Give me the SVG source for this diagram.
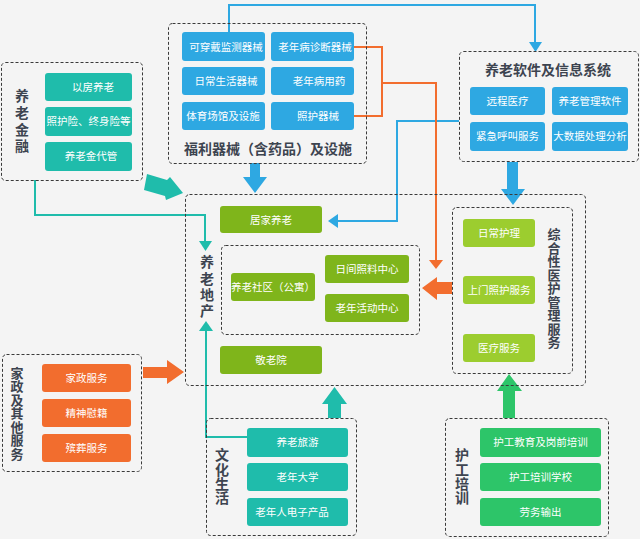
<svg xmlns="http://www.w3.org/2000/svg" width="640" height="539" viewBox="0 0 640 539">
<style>
.bg{fill:#f4f4f4}
.dash{fill:none;stroke:#3a3a3a;stroke-width:1;stroke-dasharray:3,2}
.teal{fill:#1fbcab}
.blue{fill:#2ea8e2}
.olive{fill:#7fb51b}
.lime{fill:#9ccd2f}
.orange{fill:#f26d2e}
.green{fill:#2dc569}
.bt{font-family:"Noto Sans CJK SC","Noto Sans",sans-serif;font-size:10.5px;fill:#ffffff;text-anchor:middle}
.tt{font-family:"Noto Sans CJK SC","Noto Sans",sans-serif;font-size:14px;font-weight:bold;fill:#3d4450;text-anchor:middle}
.vt{font-family:"Noto Sans CJK SC","Noto Sans",sans-serif;font-size:14px;font-weight:bold;fill:#3d4450;writing-mode:vertical-rl;text-anchor:start}
.vs{font-size:13px}
.ln{fill:none;stroke-width:2}
</style>
<rect class="bg" x="0" y="0" width="640" height="539"/>

<g id="connectors">
  <polyline class="ln" stroke="#1fbcab" points="35,180 35,215 205,215 205,243"/>
  <polygon fill="#1fbcab" points="199,241 212,241 205.5,251"/>
  <polyline class="ln" stroke="#1fbcab" points="247,437 206,437 206,329"/>
  <polygon fill="#1fbcab" points="199,331 213,331 206,321"/>
  <polyline class="ln" stroke="#2ea8e2" points="229,32 229,5 535,5 535,44"/>
  <polygon fill="#2ea8e2" points="529,42 542,42 535.5,52"/>
  <polyline class="ln" stroke="#2ea8e2" points="459,121 397,121 397,221 336,221"/>
  <polygon fill="#2ea8e2" points="338,214 338,228 328,221"/>
  <polyline class="ln" stroke="#f26d2e" points="354,47 382,47 382,116 354,116"/>
  <polyline class="ln" stroke="#f26d2e" points="382,83 436,83 436,262"/>
  <polygon fill="#f26d2e" points="429,260 443,260 436,269"/>
  <polygon class="blue" points="250,163 260,163 260,177 267,177 255,193 243,177 250,177"/>
  <polygon class="blue" points="507,162 518,162 518,189 525,189 513,205 501,189 507,189"/>
  <polygon class="teal" points="328,418 341,418 341,404 347,404 334.5,387 322,404 328,404"/>
  <polygon class="green" points="503,418 515,418 515,391 522,391 509,374 497,391 503,391"/>
  <polygon class="orange" points="143,367 167,367 167,360 184,372 167,384 167,378 143,378"/>
  <polygon class="orange" points="452,282 437,282 437,277 422,288 437,300 437,294 452,294"/>
  <polygon class="teal" points="147,174 167,180 170,177 183,193 166,200 165,196 144,190"/>
</g>

<g id="finance">
  <rect class="dash" x="1.5" y="62.5" width="141" height="118" rx="4"/>
  <text class="vt" x="22" y="89">养</text>
  <text class="vt" x="22" y="105.7">老</text>
  <text class="vt" x="22" y="122.4">金</text>
  <text class="vt" x="22" y="139.1">融</text>
  <rect class="teal" x="45" y="73" width="87" height="28" rx="3"/>
  <rect class="teal" x="45" y="107" width="87" height="29" rx="3"/>
  <rect class="teal" x="45" y="142" width="87" height="29" rx="3"/>
  <text class="bt" x="93" y="91">以房养老</text>
  <text class="bt" x="88.5" y="125">照护险、终身险等</text>
  <text class="bt" x="91" y="160">养老金代管</text>
</g>

<g id="welfare">
  <rect class="dash" x="168.5" y="23.5" width="198" height="140" rx="4"/>
  <rect class="blue" x="182" y="32" width="83" height="29" rx="3"/>
  <rect class="blue" x="271" y="32" width="83" height="29" rx="3"/>
  <rect class="blue" x="182" y="67" width="83" height="28" rx="3"/>
  <rect class="blue" x="271" y="67" width="83" height="28" rx="3"/>
  <rect class="blue" x="182" y="102" width="83" height="28" rx="3"/>
  <rect class="blue" x="271" y="102" width="83" height="28" rx="3"/>
  <text class="bt" x="226" y="51">可穿戴监测器械</text>
  <text class="bt" x="315" y="51">老年病诊断器械</text>
  <text class="bt" x="226" y="85">日常生活器械</text>
  <text class="bt" x="319" y="85">老年病用药</text>
  <text class="bt" x="223" y="120">体育场馆及设施</text>
  <text class="bt" x="318" y="120">照护器械</text>
  <text class="tt" x="268" y="154">福利器械（含药品）及设施</text>
</g>

<g id="software">
  <rect class="dash" x="459.5" y="51.5" width="179" height="110" rx="4"/>
  <text class="tt" x="548" y="75">养老软件及信息系统</text>
  <rect class="blue" x="470" y="87" width="75" height="28" rx="3"/>
  <rect class="blue" x="552" y="87" width="76" height="28" rx="3"/>
  <rect class="blue" x="470" y="122" width="75" height="29" rx="3"/>
  <rect class="blue" x="552" y="122" width="76" height="29" rx="3"/>
  <text class="bt" x="507.5" y="105">远程医疗</text>
  <text class="bt" x="590" y="105">养老管理软件</text>
  <text class="bt" x="507.5" y="140">紧急呼叫服务</text>
  <text class="bt" x="590" y="140">大数据处理分析</text>
</g>

<g id="realestate">
  <rect class="dash" x="185.5" y="194.5" width="400" height="191" rx="4"/>
  <text class="vt" x="207" y="255">养</text>
  <text class="vt" x="207" y="271.3">老</text>
  <text class="vt" x="207" y="287.6">地</text>
  <text class="vt" x="207" y="303.9">产</text>
  <rect class="olive" x="220" y="206" width="102" height="27" rx="3"/>
  <text class="bt" x="271" y="223.5">居家养老</text>
  <rect class="olive" x="220" y="346" width="102" height="28" rx="3"/>
  <text class="bt" x="271" y="364">敬老院</text>
</g>

<g id="community">
  <rect class="dash" x="221.5" y="245.5" width="198" height="89" rx="4"/>
  <rect class="olive" x="231" y="273" width="84" height="28" rx="3"/>
  <text class="bt" x="273" y="291">养老社区（公寓）</text>
  <rect class="olive" x="325" y="255" width="84" height="28" rx="3"/>
  <text class="bt" x="367" y="273">日间照料中心</text>
  <rect class="olive" x="325" y="294" width="84" height="28" rx="3"/>
  <text class="bt" x="367" y="312">老年活动中心</text>
</g>

<g id="medical">
  <rect class="dash" x="452.5" y="207.5" width="120" height="166" rx="4"/>
  <rect class="lime" x="463" y="219" width="72" height="28" rx="3"/>
  <rect class="lime" x="463" y="276" width="72" height="28" rx="3"/>
  <rect class="lime" x="463" y="334" width="72" height="28" rx="3"/>
  <text class="bt" x="499" y="237">日常护理</text>
  <text class="bt" x="499" y="294">上门照护服务</text>
  <text class="bt" x="499" y="352">医疗服务</text>
  <text class="vt vs" x="554" y="228">综</text>
  <text class="vt vs" x="554" y="241.5">合</text>
  <text class="vt vs" x="554" y="255">性</text>
  <text class="vt vs" x="554" y="268.5">医</text>
  <text class="vt vs" x="554" y="282">护</text>
  <text class="vt vs" x="554" y="295.5">管</text>
  <text class="vt vs" x="554" y="309">理</text>
  <text class="vt vs" x="554" y="322.5">服</text>
  <text class="vt vs" x="554" y="336">务</text>
</g>

<g id="household">
  <rect class="dash" x="2.5" y="354.5" width="139" height="117" rx="4"/>
  <text class="vt vs" x="17" y="366.5">家</text>
  <text class="vt vs" x="17" y="380">政</text>
  <text class="vt vs" x="17" y="393.5">及</text>
  <text class="vt vs" x="17" y="407">其</text>
  <text class="vt vs" x="17" y="420.5">他</text>
  <text class="vt vs" x="17" y="434">服</text>
  <text class="vt vs" x="17" y="447.5">务</text>
  <rect class="orange" x="42" y="364" width="89" height="28" rx="3"/>
  <rect class="orange" x="42" y="399" width="89" height="28" rx="3"/>
  <rect class="orange" x="42" y="434" width="89" height="28" rx="3"/>
  <text class="bt" x="86.5" y="382">家政服务</text>
  <text class="bt" x="86.5" y="417">精神慰籍</text>
  <text class="bt" x="86.5" y="452">殡葬服务</text>
</g>

<g id="culture">
  <rect class="dash" x="206.5" y="418.5" width="150" height="117" rx="4"/>
  <text class="vt" x="222" y="448">文</text>
  <text class="vt" x="222" y="462.3">化</text>
  <text class="vt" x="222" y="476.6">生</text>
  <text class="vt" x="222" y="490.9">活</text>
  <rect class="teal" x="247" y="428" width="101" height="29" rx="3"/>
  <rect class="teal" x="247" y="463" width="101" height="28" rx="3"/>
  <rect class="teal" x="247" y="498" width="101" height="28" rx="3"/>
  <text class="bt" x="297.5" y="446">养老旅游</text>
  <text class="bt" x="297.5" y="481">老年大学</text>
  <text class="bt" x="292" y="516">老年人电子产品</text>
</g>

<g id="training">
  <rect class="dash" x="445.5" y="418.5" width="163" height="118" rx="4"/>
  <text class="vt" x="462" y="448">护</text>
  <text class="vt" x="462" y="462.3">工</text>
  <text class="vt" x="462" y="476.6">培</text>
  <text class="vt" x="462" y="490.9">训</text>
  <rect class="green" x="480" y="428" width="121" height="29" rx="3"/>
  <rect class="green" x="480" y="463" width="121" height="28" rx="3"/>
  <rect class="green" x="480" y="498" width="121" height="28" rx="3"/>
  <text class="bt" x="540.5" y="446">护工教育及岗前培训</text>
  <text class="bt" x="540.5" y="481">护工培训学校</text>
  <text class="bt" x="540.5" y="516">劳务输出</text>
</g>
</svg>
